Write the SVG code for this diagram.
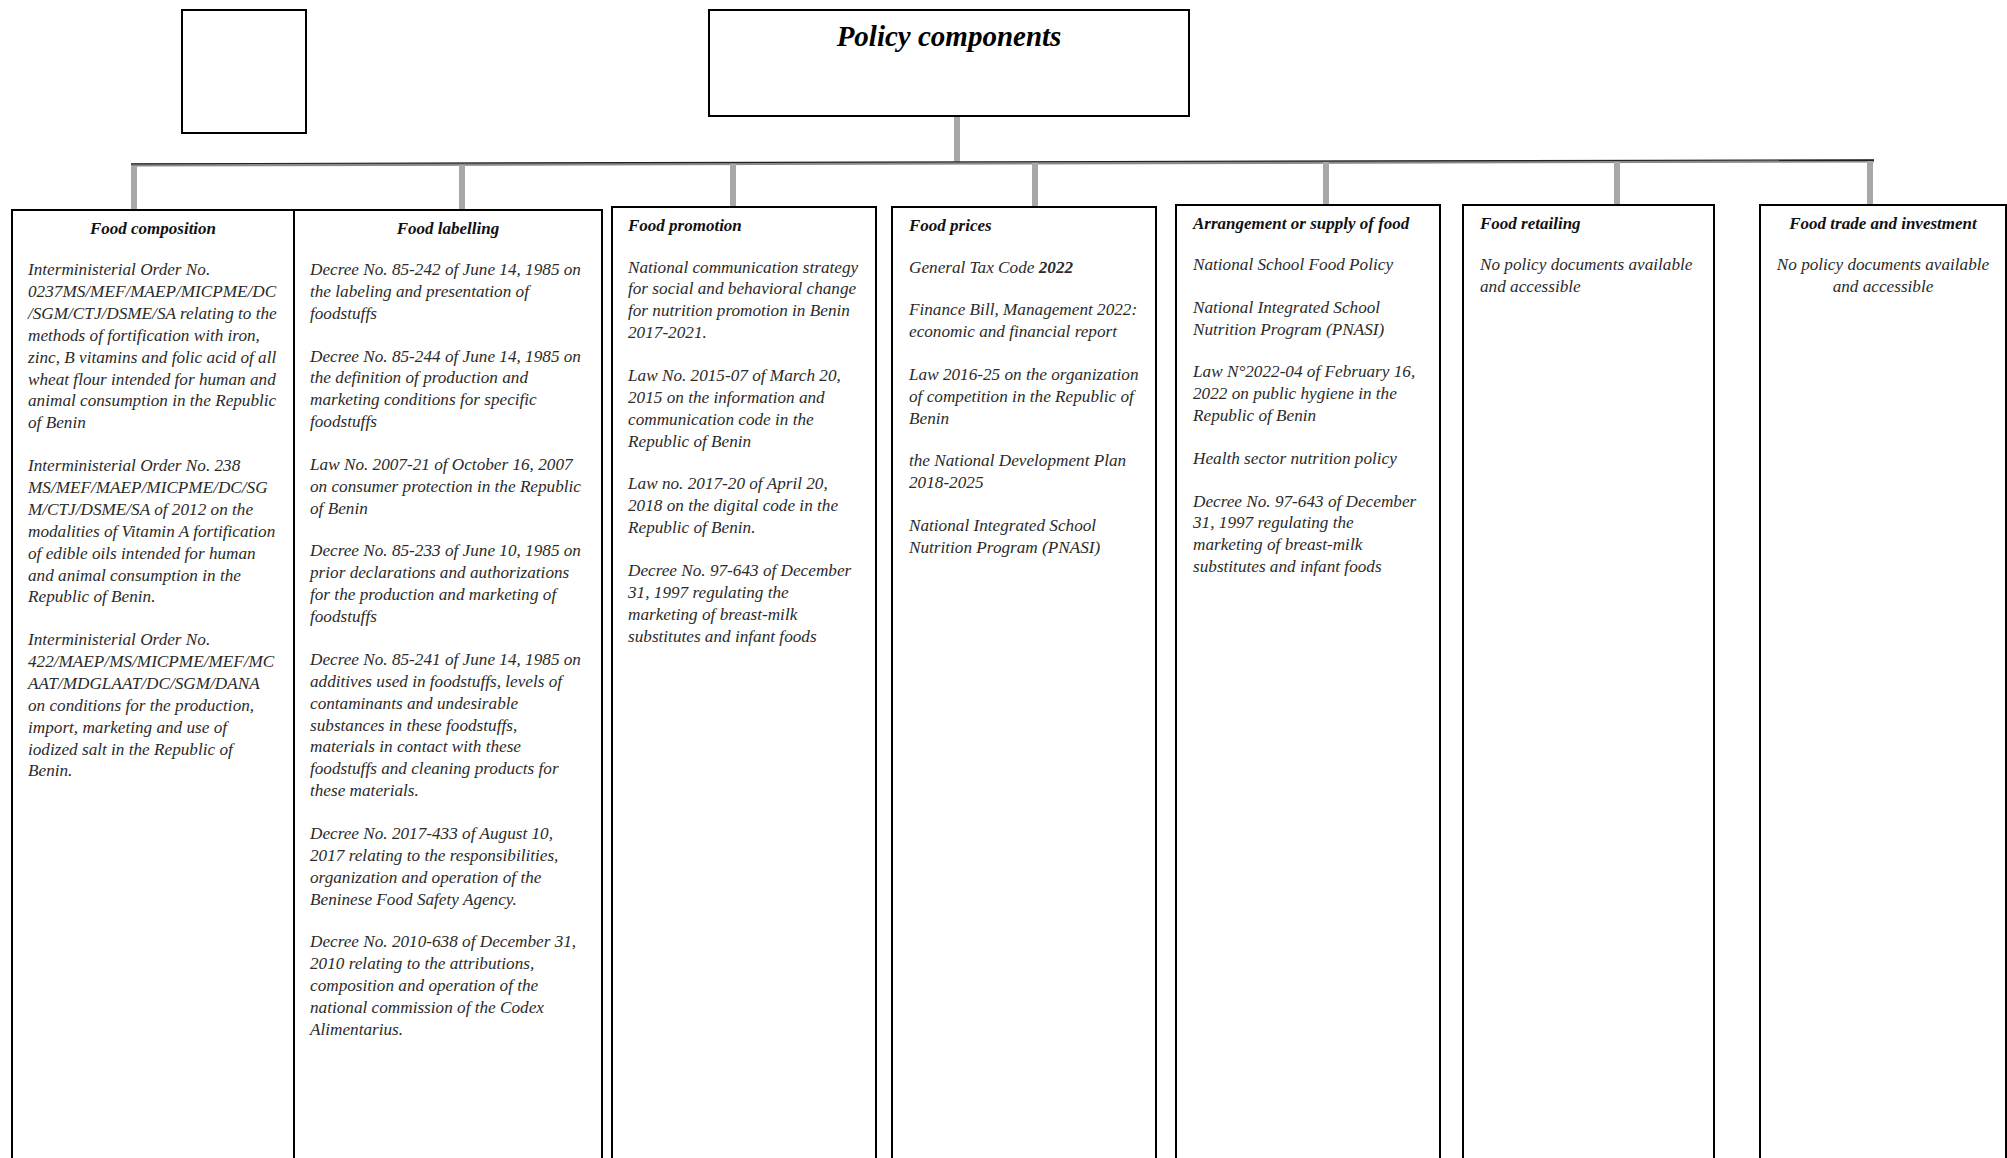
<svg xmlns="http://www.w3.org/2000/svg" width="2007" height="1158" viewBox="0 0 2007 1158">
<style>
.box{fill:#fff;stroke:#000;stroke-width:2}
.drop{stroke:#a8a8a8;stroke-width:6;fill:none}
.bar{stroke:#8a8a8a;stroke-width:3;fill:none}
.barTop{stroke:#222;stroke-width:1.2;fill:none}
.t{font-family:"Liberation Serif","Times New Roman",serif;font-style:italic;font-size:17.2px;fill:#2a2a2a}
.h{font-family:"Liberation Serif","Times New Roman",serif;font-style:italic;font-weight:bold;font-size:17px;fill:#111}
.title{font-family:"Liberation Serif","Times New Roman",serif;font-style:italic;font-weight:bold;font-size:29px;fill:#000}
.c{text-anchor:middle}
</style>
<rect width="2007" height="1158" fill="#fff"/>
<g id="connectors">
<line class="drop" x1="957" y1="116" x2="957" y2="162"/>
<line class="bar" x1="131" y1="165" x2="1874" y2="161"/>
<line class="barTop" x1="131" y1="163.8" x2="1874" y2="159.8"/>
<line class="drop" x1="134" y1="166" x2="134" y2="210"/>
<line class="drop" x1="462" y1="165" x2="462" y2="210"/>
<line class="drop" x1="733" y1="164" x2="733" y2="207"/>
<line class="drop" x1="1035" y1="163" x2="1035" y2="207"/>
<line class="drop" x1="1326" y1="162" x2="1326" y2="205"/>
<line class="drop" x1="1617" y1="162" x2="1617" y2="205"/>
<line class="drop" x1="1870" y1="161" x2="1870" y2="205"/>
</g>
<g id="blank-box"><rect class="box" x="182" y="10" width="124" height="123"/></g>
<g id="policy-components">
<rect class="box" x="709" y="10" width="480" height="106"/>
<text class="title c" x="949" y="46">Policy components</text>
</g>
<g id="food-composition">
<rect class="box" x="12" y="210" width="282" height="960"/>
<text class="h c" x="153" y="234">Food composition</text>
<text class="t" x="28" y="275">Interministerial Order No.<tspan x="28" dy="21.9">0237MS/MEF/MAEP/MICPME/DC</tspan><tspan x="28" dy="21.9">/SGM/CTJ/DSME/SA relating to the</tspan><tspan x="28" dy="21.9">methods of fortification with iron,</tspan><tspan x="28" dy="21.9">zinc, B vitamins and folic acid of all</tspan><tspan x="28" dy="21.9">wheat flour intended for human and</tspan><tspan x="28" dy="21.9">animal consumption in the Republic</tspan><tspan x="28" dy="21.9">of Benin</tspan><tspan x="28" dy="42.7">Interministerial Order No. 238</tspan><tspan x="28" dy="21.9">MS/MEF/MAEP/MICPME/DC/SG</tspan><tspan x="28" dy="21.9">M/CTJ/DSME/SA of 2012 on the</tspan><tspan x="28" dy="21.9">modalities of Vitamin A fortification</tspan><tspan x="28" dy="21.9">of edible oils intended for human</tspan><tspan x="28" dy="21.9">and animal consumption in the</tspan><tspan x="28" dy="21.9">Republic of Benin.</tspan><tspan x="28" dy="42.7">Interministerial Order No.</tspan><tspan x="28" dy="21.9">422/MAEP/MS/MICPME/MEF/MC</tspan><tspan x="28" dy="21.9">AAT/MDGLAAT/DC/SGM/DANA</tspan><tspan x="28" dy="21.9">on conditions for the production,</tspan><tspan x="28" dy="21.9">import, marketing and use of</tspan><tspan x="28" dy="21.9">iodized salt in the Republic of</tspan><tspan x="28" dy="21.9">Benin.</tspan></text>
</g>
<g id="food-labelling">
<rect class="box" x="294" y="210" width="308" height="960"/>
<text class="h c" x="448" y="234">Food labelling</text>
<text class="t" x="310" y="275">Decree No. 85-242 of June 14, 1985 on<tspan x="310" dy="21.9">the labeling and presentation of</tspan><tspan x="310" dy="21.9">foodstuffs</tspan><tspan x="310" dy="42.7">Decree No. 85-244 of June 14, 1985 on</tspan><tspan x="310" dy="21.9">the definition of production and</tspan><tspan x="310" dy="21.9">marketing conditions for specific</tspan><tspan x="310" dy="21.9">foodstuffs</tspan><tspan x="310" dy="42.7">Law No. 2007-21 of October 16, 2007</tspan><tspan x="310" dy="21.9">on consumer protection in the Republic</tspan><tspan x="310" dy="21.9">of Benin</tspan><tspan x="310" dy="42.7">Decree No. 85-233 of June 10, 1985 on</tspan><tspan x="310" dy="21.9">prior declarations and authorizations</tspan><tspan x="310" dy="21.9">for the production and marketing of</tspan><tspan x="310" dy="21.9">foodstuffs</tspan><tspan x="310" dy="42.7">Decree No. 85-241 of June 14, 1985 on</tspan><tspan x="310" dy="21.9">additives used in foodstuffs, levels of</tspan><tspan x="310" dy="21.9">contaminants and undesirable</tspan><tspan x="310" dy="21.9">substances in these foodstuffs,</tspan><tspan x="310" dy="21.9">materials in contact with these</tspan><tspan x="310" dy="21.9">foodstuffs and cleaning products for</tspan><tspan x="310" dy="21.9">these materials.</tspan><tspan x="310" dy="42.7">Decree No. 2017-433 of August 10,</tspan><tspan x="310" dy="21.9">2017 relating to the responsibilities,</tspan><tspan x="310" dy="21.9">organization and operation of the</tspan><tspan x="310" dy="21.9">Beninese Food Safety Agency.</tspan><tspan x="310" dy="42.7">Decree No. 2010-638 of December 31,</tspan><tspan x="310" dy="21.9">2010 relating to the attributions,</tspan><tspan x="310" dy="21.9">composition and operation of the</tspan><tspan x="310" dy="21.9">national commission of the Codex</tspan><tspan x="310" dy="21.9">Alimentarius.</tspan></text>
</g>
<g id="food-promotion">
<rect class="box" x="612" y="207" width="264" height="960"/>
<text class="h" x="628" y="231">Food promotion</text>
<text class="t" x="628" y="272.5">National communication strategy<tspan x="628" dy="21.9">for social and behavioral change</tspan><tspan x="628" dy="21.9">for nutrition promotion in Benin</tspan><tspan x="628" dy="21.9">2017-2021.</tspan><tspan x="628" dy="42.7">Law No. 2015-07 of March 20,</tspan><tspan x="628" dy="21.9">2015 on the information and</tspan><tspan x="628" dy="21.9">communication code in the</tspan><tspan x="628" dy="21.9">Republic of Benin</tspan><tspan x="628" dy="42.7">Law no. 2017-20 of April 20,</tspan><tspan x="628" dy="21.9">2018 on the digital code in the</tspan><tspan x="628" dy="21.9">Republic of Benin.</tspan><tspan x="628" dy="42.7">Decree No. 97-643 of December</tspan><tspan x="628" dy="21.9">31, 1997 regulating the</tspan><tspan x="628" dy="21.9">marketing of breast-milk</tspan><tspan x="628" dy="21.9">substitutes and infant foods</tspan></text>
</g>
<g id="food-prices">
<rect class="box" x="892" y="207" width="264" height="960"/>
<text class="h" x="909" y="231">Food prices</text>
<text class="t" x="909" y="272.5">General Tax Code <tspan style="font-weight:bold">2022</tspan><tspan x="909" dy="42.7">Finance Bill, Management 2022:</tspan><tspan x="909" dy="21.9">economic and financial report</tspan><tspan x="909" dy="42.7">Law 2016-25 on the organization</tspan><tspan x="909" dy="21.9">of competition in the Republic of</tspan><tspan x="909" dy="21.9">Benin</tspan><tspan x="909" dy="42.7">the National Development Plan</tspan><tspan x="909" dy="21.9">2018-2025</tspan><tspan x="909" dy="42.7">National Integrated School</tspan><tspan x="909" dy="21.9">Nutrition Program (PNASI)</tspan></text>
</g>
<g id="arrangement-supply">
<rect class="box" x="1176" y="205" width="264" height="960"/>
<text class="h" x="1193" y="229">Arrangement or supply of food</text>
<text class="t" x="1193" y="270">National School Food Policy<tspan x="1193" dy="42.7">National Integrated School</tspan><tspan x="1193" dy="21.9">Nutrition Program (PNASI)</tspan><tspan x="1193" dy="42.7">Law N°2022-04 of February 16,</tspan><tspan x="1193" dy="21.9">2022 on public hygiene in the</tspan><tspan x="1193" dy="21.9">Republic of Benin</tspan><tspan x="1193" dy="42.7">Health sector nutrition policy</tspan><tspan x="1193" dy="42.7">Decree No. 97-643 of December</tspan><tspan x="1193" dy="21.9">31, 1997 regulating the</tspan><tspan x="1193" dy="21.9">marketing of breast-milk</tspan><tspan x="1193" dy="21.9">substitutes and infant foods</tspan></text>
</g>
<g id="food-retailing">
<rect class="box" x="1463" y="205" width="251" height="960"/>
<text class="h" x="1480" y="229">Food retailing</text>
<text class="t" x="1480" y="270">No policy documents available<tspan x="1480" dy="21.9">and accessible</tspan></text>
</g>
<g id="food-trade">
<rect class="box" x="1760" y="205" width="246" height="960"/>
<text class="h c" x="1883" y="229">Food trade and investment</text>
<text class="t c" x="1883" y="270">No policy documents available<tspan x="1883" dy="21.9">and accessible</tspan></text>
</g>
</svg>
